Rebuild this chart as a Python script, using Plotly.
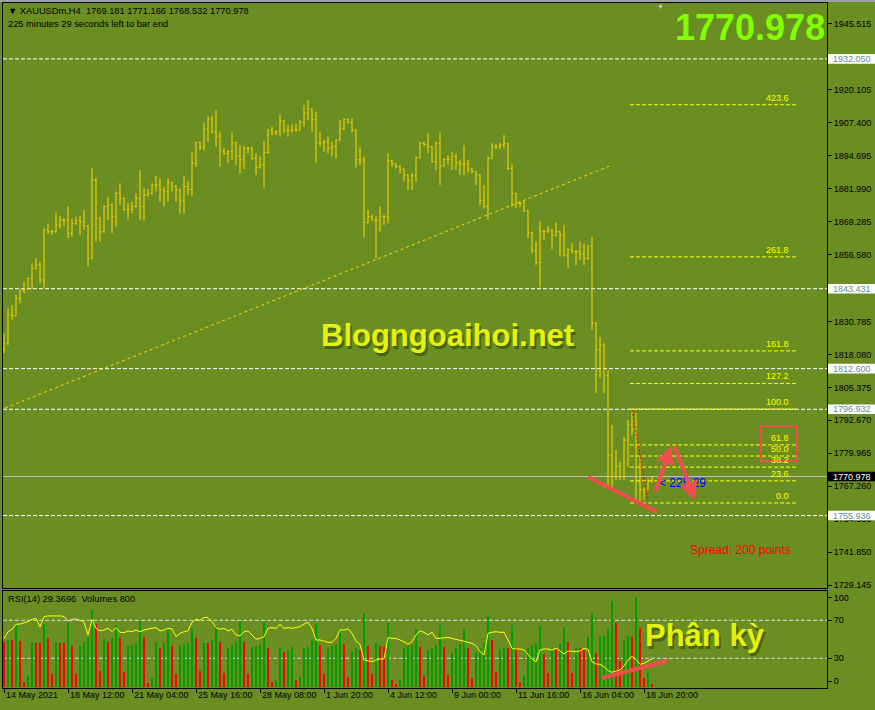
import plotly.graph_objects as go

# ---- XAUUSDm H4 bars (bar 0 = first visible bar) ----
opens = [1820.0, 1822.4, 1833.3, 1833.0, 1839.7, 1842.9, 1843.2, 1847.4, 1851.3, 1852.6,
         1846.8, 1866.1, 1865.4, 1865.4, 1868.0, 1869.9, 1869.7, 1864.8, 1868.6, 1869.7,
         1869.3, 1867.6, 1855.1, 1885.4, 1870.6, 1865.4, 1875.1, 1875.7, 1871.2, 1880.2,
         1878.3, 1874.0, 1874.0, 1875.1, 1878.3, 1875.1, 1879.6, 1880.2, 1883.4, 1883.4,
         1881.5, 1880.9, 1884.3, 1883.0, 1881.5, 1877.6, 1882.8, 1881.7, 1891.8, 1899.9,
         1898.0, 1905.0, 1908.9, 1904.0, 1902.3, 1896.5, 1895.6, 1896.3, 1899.7, 1894.6,
         1893.1, 1897.6, 1897.6, 1893.7, 1890.2, 1891.1, 1895.9, 1904.6, 1903.6, 1904.0,
         1908.2, 1904.6, 1904.4, 1904.9, 1904.6, 1907.6, 1911.1, 1912.7, 1908.7, 1899.7,
         1899.7, 1900.1, 1897.6, 1898.2, 1900.8, 1905.3, 1908.7, 1907.5, 1904.6, 1893.3,
         1893.1, 1868.9, 1871.2, 1869.9, 1869.9, 1871.2, 1871.2, 1892.8, 1891.5, 1890.5,
         1889.5, 1887.3, 1885.1, 1886.9, 1894.0, 1899.5, 1899.1, 1898.2, 1892.4, 1899.5,
         1890.8, 1893.3, 1893.4, 1894.4, 1892.0, 1891.5, 1891.5, 1889.5, 1888.6, 1887.3,
         1877.4, 1875.1, 1893.7, 1898.2, 1898.2, 1898.8, 1899.5, 1889.8, 1880.2, 1876.4,
         1876.4, 1873.5, 1865.0, 1858.1, 1853.5, 1865.4, 1865.4, 1866.1, 1864.1, 1865.4,
         1864.1, 1856.4, 1858.4, 1857.7, 1857.7, 1856.8, 1855.1, 1859.9, 1830.2, 1819.8,
         1821.7, 1810.1, 1779.3, 1772.0, 1775.0, 1771.0, 1785.1, 1790.9, 1789.0, 1768.9,
         1765.8, 1766.0, 1769.181]
highs = [1826.2, 1835.8, 1837.1, 1841.0, 1843.2, 1846.1, 1847.6, 1853.2, 1855.1, 1853.9,
         1866.7, 1868.6, 1866.3, 1873.1, 1871.5, 1870.6, 1875.1, 1870.6, 1871.2, 1871.5,
         1873.8, 1868.0, 1889.9, 1885.9, 1871.2, 1875.7, 1878.9, 1876.4, 1880.9, 1884.1,
         1878.6, 1876.4, 1877.0, 1880.2, 1889.2, 1882.1, 1881.9, 1884.1, 1886.9, 1886.0,
         1882.8, 1886.0, 1884.7, 1883.4, 1881.8, 1886.9, 1884.7, 1895.9, 1900.1, 1900.1,
         1907.6, 1909.8, 1910.0, 1912.3, 1904.0, 1897.6, 1896.9, 1903.6, 1900.1, 1898.8,
         1898.5, 1898.0, 1898.0, 1895.6, 1894.4, 1900.4, 1905.0, 1905.9, 1904.6, 1910.4,
         1908.5, 1906.6, 1906.8, 1907.0, 1908.5, 1914.3, 1916.2, 1913.0, 1911.7, 1904.0,
         1900.8, 1902.1, 1900.1, 1900.8, 1908.5, 1909.1, 1909.1, 1909.1, 1904.8, 1898.0,
         1894.4, 1873.8, 1871.9, 1871.5, 1875.1, 1871.9, 1895.6, 1893.1, 1891.8, 1891.1,
         1889.8, 1887.5, 1887.9, 1894.4, 1900.1, 1900.1, 1903.3, 1898.4, 1900.1, 1903.6,
         1893.7, 1895.0, 1896.3, 1895.6, 1893.1, 1898.8, 1893.1, 1889.8, 1888.8, 1887.5,
         1883.4, 1894.4, 1899.5, 1899.1, 1899.7, 1902.7, 1899.7, 1891.5, 1880.4, 1877.0,
         1877.6, 1873.7, 1865.4, 1861.6, 1869.3, 1866.1, 1867.6, 1866.3, 1869.0, 1865.6,
         1868.0, 1859.0, 1860.9, 1858.4, 1861.6, 1860.9, 1860.0, 1863.4, 1830.6, 1824.8,
         1822.5, 1812.1, 1790.9, 1781.2, 1776.6, 1786.2, 1792.8, 1796.6, 1795.5, 1778.5,
         1766.5, 1770.4, 1771.166]
lows = [1818.5, 1821.7, 1831.4, 1832.8, 1837.8, 1841.6, 1843.0, 1843.2, 1850.6, 1845.5,
        1843.6, 1864.5, 1864.1, 1865.0, 1866.7, 1867.4, 1862.9, 1863.5, 1868.0, 1864.1,
        1866.1, 1851.9, 1854.8, 1861.6, 1861.6, 1865.0, 1869.9, 1864.8, 1867.4, 1875.7,
        1873.5, 1869.9, 1872.5, 1874.8, 1869.9, 1869.7, 1878.9, 1879.6, 1880.9, 1877.0,
        1875.1, 1877.0, 1880.9, 1877.0, 1872.5, 1872.5, 1879.6, 1879.2, 1890.5, 1896.9,
        1896.7, 1900.1, 1903.3, 1898.2, 1890.5, 1895.0, 1891.8, 1893.1, 1891.1, 1887.9,
        1889.6, 1895.6, 1893.1, 1887.3, 1889.8, 1882.1, 1895.6, 1902.7, 1902.7, 1902.1,
        1903.3, 1902.1, 1903.6, 1904.0, 1904.5, 1905.9, 1908.5, 1904.0, 1892.0, 1898.2,
        1896.3, 1895.6, 1894.4, 1893.7, 1900.6, 1904.6, 1907.2, 1903.6, 1890.2, 1891.1,
        1863.1, 1868.6, 1869.7, 1855.1, 1865.4, 1868.0, 1868.6, 1890.5, 1889.8, 1887.9,
        1884.7, 1881.5, 1881.5, 1884.7, 1893.7, 1898.2, 1895.6, 1892.0, 1889.2, 1883.4,
        1890.5, 1891.1, 1889.2, 1889.2, 1887.3, 1887.3, 1888.2, 1887.9, 1883.4, 1875.7,
        1874.4, 1869.9, 1893.5, 1897.2, 1897.2, 1897.6, 1889.2, 1875.1, 1874.4, 1875.1,
        1873.1, 1862.9, 1857.1, 1852.6, 1843.9, 1862.2, 1864.8, 1858.6, 1863.5, 1855.8,
        1855.8, 1851.3, 1857.1, 1852.6, 1854.5, 1852.6, 1854.5, 1827.5, 1803.2, 1809.0,
        1803.2, 1766.9, 1766.9, 1769.6, 1769.6, 1769.6, 1774.7, 1787.0, 1761.5, 1760.8,
        1761.9, 1765.8, 1768.532]
closes = [1822.4, 1833.3, 1833.0, 1839.7, 1842.9, 1843.2, 1847.4, 1851.3, 1852.6, 1846.8,
          1866.1, 1865.4, 1865.4, 1868.0, 1869.9, 1869.7, 1864.8, 1868.6, 1869.7, 1869.3,
          1867.6, 1855.1, 1885.4, 1870.6, 1865.4, 1875.1, 1875.7, 1871.2, 1880.2, 1878.3,
          1874.0, 1874.0, 1875.1, 1878.3, 1875.1, 1879.6, 1880.2, 1883.4, 1883.4, 1881.5,
          1880.9, 1884.3, 1883.0, 1881.5, 1877.6, 1882.8, 1881.7, 1891.8, 1899.9, 1898.0,
          1905.0, 1908.9, 1904.0, 1902.3, 1896.5, 1895.6, 1896.3, 1899.7, 1894.6, 1893.1,
          1897.6, 1897.6, 1893.7, 1890.2, 1891.1, 1895.9, 1904.6, 1903.6, 1904.0, 1908.2,
          1904.6, 1904.4, 1904.9, 1904.6, 1907.6, 1911.1, 1912.7, 1908.7, 1899.7, 1899.7,
          1900.1, 1897.6, 1898.2, 1900.8, 1905.3, 1908.7, 1907.5, 1904.6, 1893.3, 1893.1,
          1868.9, 1871.2, 1869.9, 1869.9, 1871.2, 1871.2, 1892.8, 1891.5, 1890.5, 1889.5,
          1887.3, 1885.1, 1886.9, 1894.0, 1899.5, 1899.1, 1898.2, 1892.4, 1899.5, 1890.8,
          1893.3, 1893.4, 1894.4, 1892.0, 1891.5, 1891.5, 1889.5, 1888.6, 1887.3, 1877.4,
          1875.1, 1893.7, 1898.2, 1898.2, 1898.8, 1899.5, 1889.8, 1880.2, 1876.4, 1876.4,
          1873.5, 1865.0, 1858.1, 1853.5, 1865.4, 1865.4, 1866.1, 1864.1, 1865.4, 1864.1,
          1856.4, 1858.4, 1857.7, 1857.7, 1856.8, 1855.1, 1859.9, 1830.2, 1819.8, 1821.7,
          1810.1, 1779.3, 1772.0, 1775.0, 1771.0, 1785.1, 1790.9, 1789.0, 1768.9, 1765.8,
          1766.0, 1769.2, 1770.978]

# tick volume and RSI(14) from the lower window
volumes = [13500, 14000, 13900, 18500, 13700, 1500, 3300, 13300, 13200, 13100,
           18800, 14700, 3800, 13300, 13200, 13100, 19300, 12300, 3800, 12300,
           13300, 15000, 23000, 18700, 4700, 14300, 13300, 14500, 18500, 14700,
           4300, 12300, 12500, 13000, 19700, 15000, 1000, 2700, 13300, 11700,
           13000, 17000, 12300, 3800, 12500, 12700, 13000, 17500, 14500, 4700,
           13000, 13000, 14000, 18300, 13300, 4000, 11700, 12500, 13300, 19800,
           13300, 3800, 12000, 12300, 12500, 19500, 11700, 1500, 2000, 12000,
           10300, 11000, 12000, 2000, 3000, 11700, 12000, 14300, 18800, 12500,
           3700, 11300, 12300, 12700, 17000, 12700, 3000, 10300, 11700, 11000,
           22200, 12300, 3700, 13000, 12300, 12000, 19200, 2000, 800, 2000,
           11700, 12300, 12500, 17300, 12000, 3300, 11000, 11700, 12500, 18500,
           12000, 3500, 10000, 11700, 12700, 17200, 11700, 2500, 10300, 11500,
           13000, 21500, 14000, 4300, 11300, 11700, 11500, 18500, 11500, 1200,
           3300, 11500, 12500, 13000, 18200, 9700, 4000, 12000, 11500, 12700,
           18000, 13500, 4000, 11500, 11500, 11000, 15000, 22200, 10200, 15000,
           15100, 17200, 25700, 19200, 7800, 13800, 15200, 15000, 27000, 17700,
           2500, 4200, 800]
rsi14 = [50.4, 58.0, 60.5, 65.8, 66.0, 67.5, 68.6, 71.0, 72.0, 63.0,
         74.0, 74.6, 74.6, 75.0, 74.6, 74.0, 69.0, 71.0, 71.4, 70.0,
         68.0, 54.6, 71.0, 61.6, 58.8, 59.8, 61.6, 58.0, 62.3, 57.4,
         57.0, 58.8, 58.0, 59.8, 58.0, 59.8, 61.0, 61.6, 62.3, 58.8,
         59.8, 61.6, 61.0, 52.8, 56.3, 58.0, 58.8, 68.0, 71.0, 70.0,
         73.0, 72.8, 68.6, 62.3, 60.5, 61.6, 58.8, 60.5, 54.6, 53.5,
         58.0, 58.8, 54.6, 50.0, 51.0, 52.8, 61.6, 62.3, 61.6, 65.8,
         61.6, 62.3, 61.6, 62.3, 63.3, 66.0, 68.0, 61.6, 49.3, 49.3,
         48.2, 46.8, 46.8, 51.0, 59.8, 59.8, 61.0, 56.3, 48.2, 44.7,
         28.2, 27.2, 26.5, 28.2, 29.3, 29.3, 51.8, 51.0, 51.0, 49.3,
         47.5, 44.7, 47.5, 54.6, 58.8, 57.4, 54.6, 57.4, 51.0, 51.0,
         51.8, 52.1, 51.0, 50.0, 49.3, 48.2, 46.8, 45.8, 43.3, 37.0,
         33.5, 56.3, 57.4, 58.0, 57.4, 57.4, 49.3, 40.5, 39.8, 39.8,
         38.8, 33.5, 29.3, 26.5, 38.8, 39.8, 39.8, 38.8, 40.5, 38.0,
         34.6, 37.7, 37.0, 37.0, 37.7, 40.5, 39.5, 26.4, 24.0, 23.7,
         21.0, 17.0, 15.3, 16.7, 17.7, 22.0, 28.2, 32.0, 29.0, 23.7,
         24.7, 27.2, 29.37]
rsi_last = 29.3696

time_label_bars = [0, 16, 32, 48, 64, 80, 96, 112, 128, 144, 160]
time_labels = ["14 May 2021", "18 May 12:00", "21 May 04:00", "25 May 16:00",
               "28 May 08:00", "1 Jun 20:00", "4 Jun 12:00", "9 Jun 00:00",
               "11 Jun 16:00", "16 Jun 04:00", "18 Jun 20:00"]
price_ticks = [1945.515, 1920.105, 1907.400, 1894.695, 1881.990, 1869.285, 1856.580,
               1830.785, 1818.080, 1805.375, 1792.670, 1779.965, 1767.260, 1754.555,
               1741.850, 1729.145]
rsi_levels = [30, 70]

# drawn objects
h_levels = [1932.050, 1843.431, 1812.600, 1796.932, 1755.936]
bid = 1770.978
fib_high, fib_low = 1797.03, 1760.77
fib_levels = [0.0, 23.6, 38.2, 50.0, 61.8, 100.0, 127.2, 161.8, 261.8, 423.6]
fib_bars = [156.5, 198]
trend_bars = [0.25, 152]
trend_prices = [1797.4, 1891.1]
zz_bars = [157, 161]
zz_prices = [1796.6, 1761.9]

BG = "#6B8E23"
BAR = "#FFD700"
FONT = "Liberation Sans"
W, H = 875, 710
ML, MR, MT, MB = 3, 48, 3, 22


def px(x):
    return (x - ML) / (W - ML - MR)


def py(y):
    return (H - MB - y) / (H - MT - MB)


def text_at(x, y, text, size, color, xa="center", ya="middle", **kw):
    return dict(xref="paper", yref="paper", x=px(x), y=py(y), text=text, showarrow=False,
                xanchor=xa, yanchor=ya, font=dict(size=size, color=color), **kw)


idx = list(range(len(closes)))
xr = [-0.25, 205.75]

fig = go.Figure()
fig.add_trace(go.Ohlc(x=idx, open=opens, high=highs, low=lows, close=closes,
                      increasing=dict(line=dict(color=BAR, width=1)),
                      decreasing=dict(line=dict(color=BAR, width=1)),
                      tickwidth=0.3, hoverinfo="skip", xaxis="x", yaxis="y"))
fig.add_trace(go.Scatter(x=trend_bars, y=trend_prices, mode="lines",
                         line=dict(color=BAR, width=1, dash="3px,3px"),
                         hoverinfo="skip", xaxis="x", yaxis="y"))
fig.add_trace(go.Scatter(x=zz_bars, y=zz_prices, mode="lines",
                         line=dict(color="#FF0000", width=1, dash="2px,2px"),
                         hoverinfo="skip", xaxis="x", yaxis="y"))

vol_colors = ["#00A000" if i > 0 and v > volumes[i - 1] else "#FF0000"
              for i, v in enumerate(volumes)]
fig.add_trace(go.Bar(x=idx, y=volumes, width=0.3, marker=dict(color=vol_colors, line=dict(width=0)),
                     hoverinfo="skip", xaxis="x2", yaxis="y2"))
fig.add_trace(go.Scatter(x=idx, y=rsi14, mode="lines", line=dict(color="#FFFF00", width=1),
                         hoverinfo="skip", xaxis="x2", yaxis="y3"))

shapes = []
for lv in h_levels:
    shapes.append(dict(type="line", xref="x", yref="y", x0=xr[0], x1=xr[1], y0=lv, y1=lv,
                       layer="below", line=dict(color="white", width=1, dash="4px,2px")))
shapes.append(dict(type="line", xref="x", yref="y", x0=xr[0], x1=xr[1], y0=bid, y1=bid,
                   layer="below", line=dict(color="#C0C0C0", width=1)))
for lv in fib_levels:
    p = fib_low + (fib_high - fib_low) * lv / 100
    shapes.append(dict(type="line", xref="x", yref="y", x0=fib_bars[0], x1=fib_bars[1], y0=p, y1=p,
                       layer="below", line=dict(color="#FFFF00", width=1, dash="4px,2px")))
for lv in rsi_levels:
    shapes.append(dict(type="line", xref="x2", yref="y3", x0=xr[0], x1=xr[1], y0=lv, y1=lv,
                       layer="below", line=dict(color="#D8D8D8", width=1, dash="4px,2px")))

RED = "#F04E4E"
# hand drawn marks
shapes.append(dict(type="rect", xref="paper", yref="paper", x0=px(761), x1=px(797), y0=py(461), y1=py(426),
                   line=dict(color=RED, width=2)))
shapes.append(dict(type="line", xref="paper", yref="paper", x0=px(588), x1=px(657), y0=py(477), y1=py(512),
                   line=dict(color=RED, width=4)))
shapes.append(dict(type="line", xref="paper", yref="paper", x0=px(602), x1=px(667), y0=py(678), y1=py(661),
                   line=dict(color=RED, width=4)))
# window top edge
shapes.append(dict(type="rect", xref="paper", yref="paper", x0=px(0), x1=px(875), y0=py(2), y1=py(-2),
                   line=dict(width=0), fillcolor="#A0A0A0"))

ann = []
# price labels of horizontal lines
half = 4.8 * (1953.61 - 1728.0) / 585
for lv in h_levels:
    shapes.append(dict(type="rect", xref="paper", yref="y", x0=px(828), x1=px(876), y0=lv - half, y1=lv + half,
                       line=dict(width=0), fillcolor="white"))
    ann.append(dict(xref="paper", yref="y", x=px(852), y=lv, text=f"{lv:.3f}", showarrow=False,
                    xanchor="center", yanchor="middle", font=dict(size=9, color="#5F8C8C")))
shapes.append(dict(type="rect", xref="paper", yref="y", x0=px(828), x1=px(876), y0=bid - half, y1=bid + half,
                   line=dict(width=0), fillcolor="black"))
ann.append(dict(xref="paper", yref="y", x=px(852), y=bid, text=f"{bid:.3f}", showarrow=False,
                xanchor="center", yanchor="middle", font=dict(size=9, color="white")))

for lv in fib_levels:
    p = fib_low + (fib_high - fib_low) * lv / 100
    ann.append(dict(xref="x", yref="y", x=196.75, y=p, text=f"{lv:.1f}", showarrow=False,
                    xanchor="right", yanchor="bottom", font=dict(size=9, color="#FFFF00")))

for b, t in zip(time_label_bars, time_labels):
    ann.append(dict(xref="x2", yref="paper", x=b, y=py(695), text=t, showarrow=False,
                    xanchor="left", yanchor="middle", xshift=0, font=dict(size=9, color="black")))

ann.append(text_at(6, 11, f"▼ XAUUSDm,H4\u00a0\u00a0{opens[-1]:.3f} {highs[-1]:.3f} {lows[-1]:.3f} {closes[-1]:.3f}",
                   9.3, "black", xa="left"))
ann.append(text_at(6, 24, "225 minutes 29 seconds left to bar end", 9.3, "black", xa="left"))
ann.append(text_at(6, 599, f"RSI(14) {rsi_last}\u00a0\u00a0Volumes {volumes[-1]}", 9.3, "black", xa="left"))
ann.append(text_at(827, 28, f"<b>{closes[-1]:.3f}</b>", 36, "#7FFF00", xa="right"))
ann.append(text_at(660, 6, "▼", 7, "#C8C8C8"))
ann.append(text_at(793, 550, "Spread: 200 points", 12, "#FF0000", xa="right"))
ann.append(text_at(657, 483, "< 225:29", 12, "#0000FF", xa="left"))

for txt, cx, cy in [("Blogngoaihoi.net", 447, 335), ("Phân kỳ", 705, 635)]:
    ann.append(text_at(cx, cy, f"<b>{txt}</b>", 31, "rgba(45,60,10,0.55)", xshift=2, yshift=-3))
    ann.append(text_at(cx, cy, f"<b>{txt}</b>", 31, "#E4F20C"))

# red arrows
for hx, hy, tx, ty in [(671, 446, 655, 493), (695, 500, 674, 445)]:
    ann.append(dict(xref="paper", yref="paper", x=px(hx), y=py(hy), ax=tx - hx, ay=ty - hy,
                    text="", showarrow=True, arrowhead=2, arrowsize=0.9, arrowwidth=4,
                    arrowcolor=RED, standoff=0))

fig.update_layout(
    width=W, height=H, margin=dict(l=ML, r=MR, t=MT, b=MB),
    paper_bgcolor=BG, plot_bgcolor=BG, showlegend=False,
    font=dict(family=FONT, size=9, color="black"),
    shapes=shapes, annotations=ann,
    xaxis=dict(domain=[0, 1], anchor="y", range=xr, showticklabels=False, ticks="",
               showgrid=False, zeroline=False, showline=True, mirror=True, linecolor="black",
               rangeslider=dict(visible=False)),
    yaxis=dict(domain=[py(588), 1], anchor="x", side="right", range=[1728.0, 1953.61],
               tickvals=price_ticks, ticktext=[f"{v:.3f}" for v in price_ticks],
               ticks="outside", ticklen=4, tickcolor="black", showgrid=False, zeroline=False,
               showline=True, mirror=True, linecolor="black"),
    xaxis2=dict(domain=[0, 1], anchor="y2", range=xr, tickvals=time_label_bars, showticklabels=False,
                ticks="outside", ticklen=4, tickcolor="black", showgrid=False, zeroline=False,
                showline=True, mirror=True, linecolor="black"),
    yaxis2=dict(domain=[0, py(591)], anchor="x2", range=[-390, 28710], showticklabels=False, ticks="",
                showgrid=False, zeroline=False, showline=True, mirror=True, linecolor="black"),
    yaxis3=dict(overlaying="y2", anchor="x2", side="right", range=[-1.26, 100.84],
                tickvals=[6.1, 30, 70, 93.8], ticktext=["0", "30", "70", "100"],
                ticks="outside", ticklen=4, tickcolor="black", showgrid=False, zeroline=False),
    bargap=0,
)

fig.write_html("out.html", config={"displayModeBar": False},
               post_script="document.body.style.margin='0';document.body.style.overflow='hidden';")
